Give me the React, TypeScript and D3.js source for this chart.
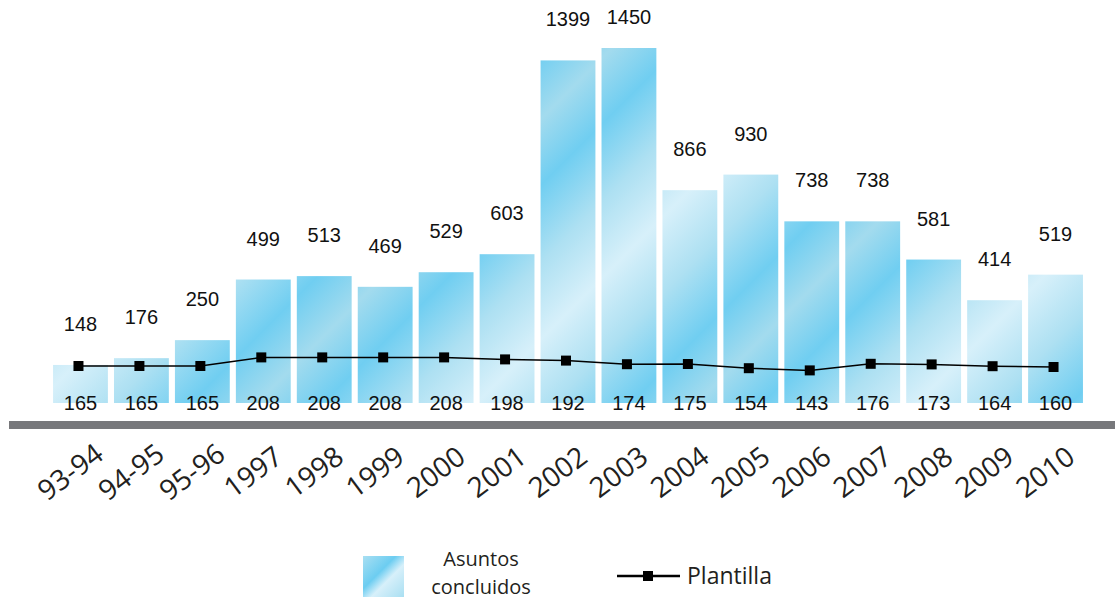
// @ts-nocheck
import React, { useEffect, useRef } from "react";
import * as d3 from "d3";

const periods = ["93-94", "94-95", "95-96", "1997", "1998", "1999", "2000", "2001", "2002", "2003", "2004", "2005", "2006", "2007", "2008", "2009", "2010"];
const asuntos = [148, 176, 250, 499, 513, 469, 529, 603, 1399, 1450, 866, 930, 738, 738, 581, 414, 519];
const plantilla = [165, 165, 165, 208, 208, 208, 208, 198, 192, 174, 175, 154, 143, 176, 173, 164, 160];

export default function App() {
  const svgRef = useRef(null);

  useEffect(() => {
    const svg = d3.select(svgRef.current);
    svg.selectAll("*").remove();

    const W = 1115;
    const base = 401;

    const x = d3.scaleBand().domain(periods).range([50, 1086]).paddingInner(0.1).paddingOuter(0.05);
    const y = d3.scaleLinear().domain([0, 1450]).range([base, 48]);
    const y2 = d3.scaleLinear().domain([0, 1000]).range([399, 199]);

    // gradient
    const defs = svg.append("defs");
    const grad = defs.append("linearGradient")
      .attr("id", "barGrad")
      .attr("gradientUnits", "userSpaceOnUse")
      .attr("x1", 0).attr("y1", 0).attr("x2", 110).attr("y2", 110)
      .attr("spreadMethod", "reflect");
    [["0%", "#d7f0fa"], ["35%", "#ade0f2"], ["70%", "#70cef1"], ["100%", "#a3dbee"]].forEach(([o, c]) =>
      grad.append("stop").attr("offset", o).attr("stop-color", c));

    const legGrad = defs.append("linearGradient")
      .attr("id", "legGrad")
      .attr("x1", 0).attr("y1", 0).attr("x2", 1).attr("y2", 1);
    [["0%", "#a9dff2"], ["40%", "#6ccdf1"], ["60%", "#d7f0fa"], ["100%", "#a9dff2"]].forEach(([o, c]) =>
      legGrad.append("stop").attr("offset", o).attr("stop-color", c));

    // bars
    svg.append("g").selectAll("rect")
      .data(asuntos)
      .join("rect")
      .attr("x", (d, i) => x(periods[i]))
      .attr("y", d => y(d))
      .attr("width", x.bandwidth())
      .attr("height", d => base + 2 - y(d))
      .attr("fill", "url(#barGrad)");

    // top labels
    svg.append("g").selectAll("text")
      .data(asuntos)
      .join("text")
      .attr("x", (d, i) => x(periods[i]) + x.bandwidth() / 2)
      .attr("y", d => Math.max(y(d) - 34, 24))
      .attr("text-anchor", "middle")
      .attr("font-family", "Liberation Sans, Arial, sans-serif")
      .attr("font-size", 20)
      .attr("fill", "#111")
      .text(d => d);

    // axis band
    svg.append("rect")
      .attr("x", 9).attr("y", 421)
      .attr("width", W - 9).attr("height", 8)
      .attr("fill", "#77787b");

    // line
    const line = d3.line()
      .x((d, i) => x(periods[i]) + x.bandwidth() / 2 - 2)
      .y(d => y2(d));
    svg.append("path")
      .datum(plantilla)
      .attr("d", line)
      .attr("fill", "none")
      .attr("stroke", "#000")
      .attr("stroke-width", 1.5);

    svg.append("g").selectAll("rect")
      .data(plantilla)
      .join("rect")
      .attr("x", (d, i) => x(periods[i]) + x.bandwidth() / 2 - 2 - 5)
      .attr("y", d => y2(d) - 5)
      .attr("width", 10)
      .attr("height", 10)
      .attr("fill", "#000");

    // bottom labels
    svg.append("g").selectAll("text")
      .data(plantilla)
      .join("text")
      .attr("x", (d, i) => x(periods[i]) + x.bandwidth() / 2)
      .attr("y", 410)
      .attr("text-anchor", "middle")
      .attr("font-family", "Liberation Sans, Arial, sans-serif")
      .attr("font-size", 20)
      .attr("fill", "#111")
      .text(d => d);

    // x labels
    svg.append("g").selectAll("text")
      .data(periods)
      .join("text")
      .attr("transform", (d, i) => `translate(${x(d) + x.bandwidth() / 2 - 11}, 471) rotate(-37)`)
      .attr("text-anchor", "middle")
      .attr("dominant-baseline", "central")
      .attr("font-family", "Open Sans, Noto Sans, sans-serif")
      .attr("font-size", 28)
      .attr("fill", "#231f20")
      .text(d => d);

    // legend
    svg.append("rect")
      .attr("x", 363).attr("y", 556).attr("width", 41).attr("height", 41)
      .attr("fill", "url(#legGrad)");
    svg.append("text")
      .attr("x", 481).attr("y", 566)
      .attr("text-anchor", "middle")
      .attr("font-family", "Open Sans, Noto Sans, sans-serif")
      .attr("font-size", 20)
      .attr("fill", "#231f20")
      .text("Asuntos");
    svg.append("text")
      .attr("x", 481).attr("y", 594)
      .attr("text-anchor", "middle")
      .attr("font-family", "Open Sans, Noto Sans, sans-serif")
      .attr("font-size", 20)
      .attr("fill", "#231f20")
      .text("concluidos");

    svg.append("line")
      .attr("x1", 617).attr("x2", 680).attr("y1", 576).attr("y2", 576)
      .attr("stroke", "#000").attr("stroke-width", 2.5);
    svg.append("rect")
      .attr("x", 643).attr("y", 571).attr("width", 10).attr("height", 10)
      .attr("fill", "#000");
    svg.append("text")
      .attr("x", 687).attr("y", 584)
      .attr("font-family", "Open Sans, Noto Sans, sans-serif")
      .attr("font-size", 23)
      .attr("fill", "#231f20")
      .text("Plantilla");
  }, []);

  return (
    <svg
      ref={svgRef}
      width={1115}
      height={601}
      style={{ position: "absolute", left: 0, top: 0, background: "#fff" }}
    />
  );
}
